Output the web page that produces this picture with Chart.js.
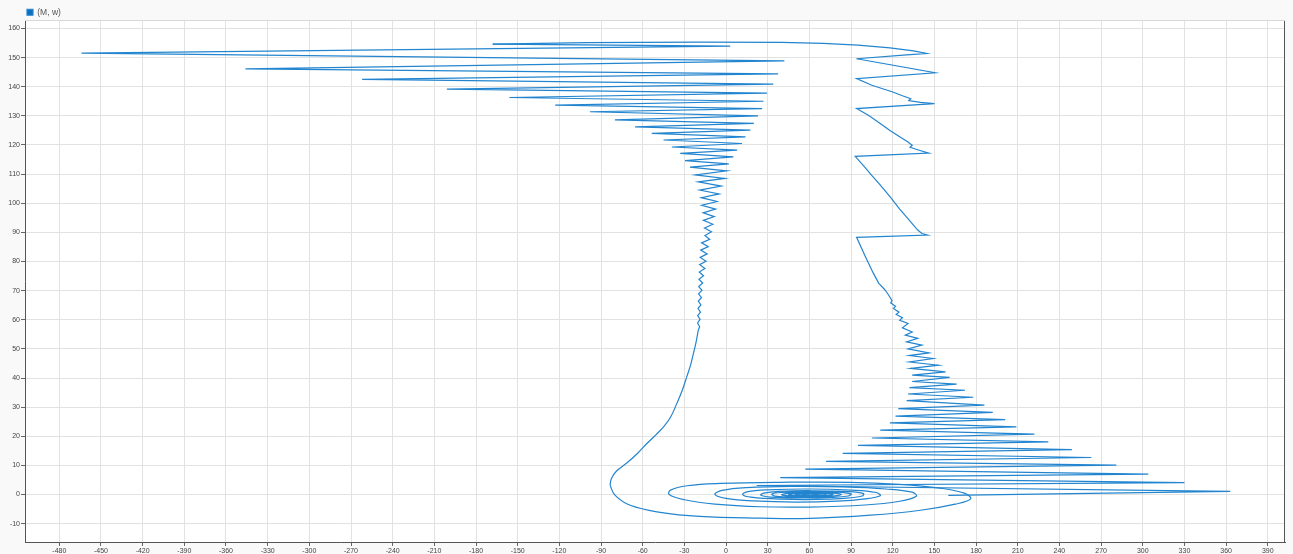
<!DOCTYPE html>
<html><head><meta charset="utf-8">
<script src="https://cdn.jsdelivr.net/npm/chart.js@4.4.1/dist/chart.umd.min.js"></script>
<style>html,body{margin:0;padding:0;background:#f9f9f9;overflow:hidden}#wrap{width:1293px;height:554px}</style>
</head><body><div id="wrap"><canvas id="c" width="1293" height="554"></canvas></div>
<script>
const seriesLabel = '(M, w)';
const xTickValues = [-480,-450,-420,-390,-360,-330,-300,-270,-240,-210,-180,-150,-120,-90,-60,-30,0,30,60,90,120,150,180,210,240,270,300,330,360,390];
const yTickValues = [-10,0,10,20,30,40,50,60,70,80,90,100,110,120,130,140,150,160];

// spiral around (58,0), from its outer left edge inward
const spiralPts = [[-83.5,3.2],[-80,-0.2],[-69,-3.7],[-47.5,-6.1],[-19,-7.5],[24.5,-8.1],[60,-8.2],[104,-7.1],[140,-5.4],[165,-3.3],[176,-1.5],[172,0.4],[154,2.2],[125,3.5],[89,4.2],[39,4.2],[-4,3.8],[-28,3.0],[-40,1.5],[-41,0],[-30,-1.8],[-8,-3.3],[24.5,-4.2],[60,-4.3],[100,-3.6],[125,-2.3],[137,-0.6],[134,0.8],[115,1.9],[85,2.6],[50,2.8],[15,2.4],[-3,1.4],[-8,0],[0,-1.3],[20,-2.2],[50,-2.6],[80,-2.3],[100,-1.5],[111,-0.4],[108,0.7],[90,1.5],[60,1.9],[30,1.6],[15,0.9],[12,0],[18,-0.9],[40,-1.6],[65,-1.7],[85,-1.3],[98,-0.5],[99,0.3],[88,1.0],[62,1.3],[38,1.1],[27,0.5],[25,-0.2],[32,-0.9],[55,-1.2],[75,-1.0],[88,-0.5],[90,0.2],[80,0.8],[58,0.95],[40,0.7],[33,0.2],[35,-0.5],[50,-0.85],[68,-0.8],[80,-0.4],[83,0.1],[74,0.55],[57,0.65],[44,0.4],[40,-0.1],[46,-0.5],[60,-0.6],[72,-0.4],[77,0.05],[70,0.4],[57,0.45],[48,0.25],[45,-0.1],[50,-0.4],[62,-0.4],[70,-0.2],[72,0.1],[65,0.3],[56,0.3],[50,0.1],[52,-0.2],[60,-0.25],[66,-0.1],[64,0.15],[57,0.15],[55,0],[58,0]];

// smooth rise from the left edge of the spiral
const risePts = [[-83.5,3.2],[-82.5,5.5],[-79,8],[-71.5,10.8],[-64,14],[-57,17.5],[-50.5,20.5],[-45,23.2],[-40,26.5],[-35.5,31.2],[-31.5,35.8],[-28.3,40.4],[-25.5,44.5],[-23.5,48.4],[-21.5,52.5],[-20,56.4]];

// oscillations growing upward on the left
const leftOscPts = [[-20,56.4],[-19.0,57.6],[-20.5,58.9],[-18.7,60.1],[-20.4,61.4],[-18.4,62.6],[-20.2,63.9],[-18.1,65.1],[-20.0,66.4],[-17.7,67.6],[-19.8,68.9],[-17.3,70.1],[-19.7,71.4],[-16.8,72.6],[-19.5,73.9],[-16.2,75.1],[-19.3,76.4],[-15.2,77.6],[-19.0,78.9],[-14.4,80.1],[-18.6,81.4],[-13.6,82.6],[-18.2,83.9],[-12.8,85.1],[-17.6,86.4],[-11.8,87.6],[-15.2,88.9],[-10.5,90.2],[-15.5,91.5],[-9.5,92.8],[-16.3,94.1],[-8.5,95.4],[-16.5,96.7],[-7.5,98],[-17.5,99.3],[-6.5,100.6],[-17.8,101.9],[-5,103.2],[-19,104.5],[-3.5,105.9],[-20,107.3],[-1,108.5],[-22,109.7],[0.5,111.1],[-26,112.4],[2,113.5],[-29.5,114.6],[5.3,115.9],[-33,117.1],[8,118.2],[-39,119.3],[11.5,120.5],[-45,121.7],[14,122.8],[-53.5,124],[17.5,125.1],[-65.5,126.2],[20,127.4],[-80,128.6],[23,130],[-98,131.4],[26,132.5],[-123,133.7],[27,135],[-156,136.3],[29.5,137.8],[-201,139.2],[34,140.9],[-262,142.5],[37.5,144.4],[-346,146.1],[42,148.9],[-464,151.5],[3,153.9],[-168,154.6]];

// crossing at the top
const topPts = [[-168,154.6],[-100,155.1],[-20,155.3],[40,155.2],[70,154.9],[95,154.3],[118,153.3],[135,152.3],[144.5,151.4],[130,150.9],[94,149.6]];

// zigzag down the right side
const rightPts = [[94,149.6],[150.5,144.8],[94,142.8],[105,140.5],[120,138.2],[127,136.9],[133,135.9],[131.5,135.2],[140,134.6],[150,134.2],[94,132.5],[103,130],[111,127.4],[118,125],[125,122.8],[131,121],[134,119.9],[132.5,119.2],[139,118.2],[146,117.2],[93,116.1],[100,112.3],[105,109.5],[110,106.8],[115,104],[119,101.7],[125,98],[130,95.2],[134,93],[138,90.8],[141,89.6],[145,89.1],[94,88.3],[100,82],[106,76],[110,72.5],[114.5,70.2]];

// growing oscillations down to the right tip
const trianglePts = [[114.5,70.2],[117,68.5],[119.5,66.5],[118.5,65.8],[122,64.6],[120.5,63.9],[124.5,62.6],[122.5,61.8],[127,60.7],[125,59.8],[131,58.7],[127,57.2],[134,55.8],[129,54.7],[138,53.6],[130,52.4],[141,51.3],[131,50],[146,48.6],[132,47.7],[149,46.7],[132,45.5],[153,44.4],[133,43.3],[158,42.1],[134,41],[161,40.2],[134,38.8],[166,37.9],[132,36.7],[172,35.8],[131,34.5],[178,33.4],[130,32.2],[186,30.7],[124,29.5],[192,28.2],[122,26.9],[201,25.7],[118,24.6],[209,23.2],[111,22.1],[222,20.7],[105,19.4],[232,18.1],[95,16.9],[249,15.4],[84,14.1],[263,12.7],[72,11.4],[281,10.1],[57,8.7],[304,7.0],[39,5.8],[330,4.1],[22,3.1],[363,1.1],[160,-0.3]];

const toXY = pts => pts.map(p => ({x: p[0], y: p[1]}));
const lineColor = '#2385cf';
const mk = (pts, tension) => ({
  label: seriesLabel, data: toXY(pts), showLine: true, tension: tension,
  borderColor: lineColor, backgroundColor: '#0b6fc0', borderWidth: 1.2,
  pointRadius: 0, pointHoverRadius: 0, fill: false
});

const frame = {
  id: 'frame',
  beforeDraw(chart) {
    const {ctx, chartArea: a} = chart;
    ctx.save();
    ctx.fillStyle = '#f9f9f9';
    ctx.fillRect(0, 0, chart.width, chart.height);
    ctx.fillStyle = '#ffffff';
    ctx.fillRect(a.left, a.top, a.right - a.left, a.bottom - a.top);
    ctx.restore();
  },
  afterDraw(chart) {
    const {ctx, chartArea: a} = chart;
    ctx.save();
    ctx.strokeStyle = '#555';
    ctx.lineWidth = 1;
    ctx.beginPath();
    ctx.moveTo(Math.round(a.right) - 0.5, a.top);
    ctx.lineTo(Math.round(a.right) - 0.5, a.bottom);
    ctx.stroke();
    ctx.strokeStyle = '#d8d8d8';
    ctx.beginPath();
    ctx.moveTo(a.left, Math.round(a.top) + 0.5);
    ctx.lineTo(a.right, Math.round(a.top) + 0.5);
    ctx.stroke();
    ctx.restore();
  }
};

const tickFont = {size: 7, family: '"Liberation Sans", Arial, sans-serif'};
new Chart(document.getElementById('c'), {
  type: 'scatter',
  data: {datasets: [mk(spiralPts, 0.4), mk(risePts, 0.4), mk(leftOscPts, 0), mk(topPts, 0), mk(rightPts, 0), mk(trianglePts, 0)]},
  options: {
    responsive: false, animation: false, devicePixelRatio: 1,
    layout: {padding: {left: 0, right: 8, top: 6, bottom: 0}},
    plugins: {
      legend: {
        display: true, position: 'top', align: 'start', fullSize: false, maxHeight: 14,
        labels: {boxWidth: 6, boxHeight: 6, padding: 2, color: '#555',
          font: {size: 8.5, family: '"Liberation Sans", Arial, sans-serif'},
          filter: item => item.datasetIndex === 0}
      },
      tooltip: {enabled: false}
    },
    scales: {
      x: {
        type: 'linear', min: -504.7, max: 402.4,
        afterBuildTicks: s => { s.ticks = xTickValues.map(v => ({value: v})); },
        afterFit: s => { s.height = 12; },
        grid: {color: '#e2e2e2', tickColor: '#666', tickLength: 4, lineWidth: 1},
        border: {color: '#555', width: 1},
        ticks: {font: tickFont, color: '#444', padding: 1, maxRotation: 0, autoSkip: false}
      },
      y: {
        type: 'linear', min: -16.3, max: 162.9,
        afterBuildTicks: s => { s.ticks = yTickValues.map(v => ({value: v})); },
        afterFit: s => { s.width = 25; },
        grid: {color: '#e2e2e2', tickColor: '#666', tickLength: 4, lineWidth: 1},
        border: {color: '#555', width: 1},
        ticks: {font: tickFont, color: '#444', padding: 1, autoSkip: false}
      }
    }
  },
  plugins: [frame]
});
</script>
</body></html>
